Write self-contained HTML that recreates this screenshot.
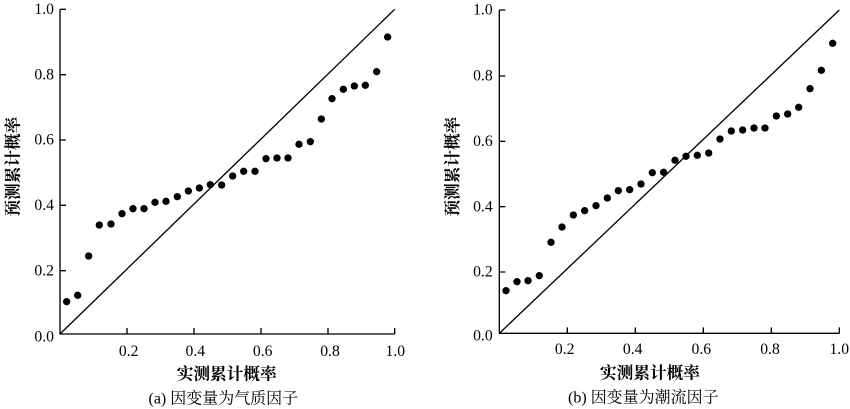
<!DOCTYPE html>
<html><head><meta charset="utf-8"><style>body{margin:0;background:#fff}svg{display:block}</style></head><body>
<svg width="850" height="409" viewBox="0 0 850 409" xmlns="http://www.w3.org/2000/svg">
<g transform="scale(0.33333)" font-family="Liberation Serif, Noto Serif CJK SC, serif" fill="#000">
<!-- left -->
<g stroke="#000" stroke-width="4" fill="none">
<path d="M180 28 V1002 H1184"/>
<path d="M180 28 h18 M180 224 h18 M180 420 h18 M180 616 h18 M180 812 h18"/>
<path d="M381 1002 v-18 M582 1002 v-18 M783 1002 v-18 M984 1002 v-18 M1184 1002 v-18"/>
<path d="M180 1002 L1184 28" stroke-width="4"/>
</g>
<g font-size="47" text-anchor="end">
<text x="162" y="42">1.0</text><text x="162" y="238">0.8</text><text x="162" y="434">0.6</text><text x="162" y="630">0.4</text><text x="162" y="826">0.2</text><text x="162" y="1024">0.0</text>
</g>
<g font-size="47" text-anchor="middle">
<text x="386" y="1068">0.2</text><text x="586" y="1068">0.4</text><text x="788" y="1068">0.6</text><text x="990" y="1068">0.8</text><text x="1186" y="1068">1.0</text>
</g>
<text x="680" y="1138" font-size="50" font-weight="bold" text-anchor="middle" font-family="Noto Serif CJK SC, serif">实测累计概率</text>
<text x="670" y="1210" font-size="48" text-anchor="middle">(a) 因变量为气质因子</text>
<text transform="translate(56,500) rotate(-90)" font-size="50" font-weight="bold" text-anchor="middle" font-family="Noto Serif CJK SC, serif">预测累计概率</text>
<g>
<circle cx="200" cy="905" r="11"/><circle cx="233" cy="886" r="11"/><circle cx="266" cy="768" r="11"/><circle cx="298" cy="675" r="11"/><circle cx="333" cy="672" r="11"/><circle cx="366" cy="641" r="11"/><circle cx="399" cy="626" r="11"/><circle cx="432" cy="626" r="11"/><circle cx="465" cy="607" r="11"/><circle cx="498" cy="604" r="11"/><circle cx="532" cy="590" r="11"/><circle cx="565" cy="573" r="11"/><circle cx="598" cy="564" r="11"/><circle cx="631" cy="554" r="11"/><circle cx="665" cy="555" r="11"/><circle cx="698" cy="528" r="11"/><circle cx="731" cy="514" r="11"/><circle cx="765" cy="514" r="11"/><circle cx="798" cy="476" r="11"/><circle cx="831" cy="474" r="11"/><circle cx="864" cy="474" r="11"/><circle cx="897" cy="433" r="11"/><circle cx="931" cy="425" r="11"/><circle cx="964" cy="357" r="11"/><circle cx="996" cy="296" r="11"/><circle cx="1030" cy="268" r="11"/><circle cx="1063" cy="258" r="11"/><circle cx="1096" cy="256" r="11"/><circle cx="1130" cy="215" r="11"/><circle cx="1163" cy="111" r="11"/>
</g>
<!-- right -->
<g transform="translate(1290,0)">
<g stroke="#000" stroke-width="4" fill="none">
<path d="M208 30 V1000 H1228"/>
<path d="M208 30 h18 M208 228 h18 M208 424 h18 M208 620 h18 M208 816 h18"/>
<path d="M412 1000 v-18 M616 1000 v-18 M820 1000 v-18 M1024 1000 v-18 M1228 1000 v-18"/>
<path d="M208 1000 L1228 30"/>
</g>
<g font-size="47" text-anchor="end">
<text x="188" y="44">1.0</text><text x="188" y="242">0.8</text><text x="188" y="438">0.6</text><text x="188" y="634">0.4</text><text x="188" y="830">0.2</text><text x="188" y="1022">0.0</text>
</g>
<g font-size="47" text-anchor="middle">
<text x="404" y="1062">0.2</text><text x="608" y="1062">0.4</text><text x="814" y="1062">0.6</text><text x="1020" y="1062">0.8</text><text x="1228" y="1062">1.0</text>
</g>
<text x="660" y="1136" font-size="50" font-weight="bold" text-anchor="middle" font-family="Noto Serif CJK SC, serif">实测累计概率</text>
<text x="640" y="1208" font-size="48" text-anchor="middle">(b) 因变量为潮流因子</text>
<text transform="translate(84,500) rotate(-90)" font-size="50" font-weight="bold" text-anchor="middle" font-family="Noto Serif CJK SC, serif">预测累计概率</text>
<g>
<circle cx="228" cy="872" r="11"/><circle cx="261" cy="845" r="11"/><circle cx="294" cy="842" r="11"/><circle cx="328" cy="827" r="11"/><circle cx="363" cy="727" r="11"/><circle cx="396" cy="681" r="11"/><circle cx="430" cy="645" r="11"/><circle cx="464" cy="632" r="11"/><circle cx="498" cy="617" r="11"/><circle cx="532" cy="594" r="11"/><circle cx="565" cy="572" r="11"/><circle cx="599" cy="569" r="11"/><circle cx="633" cy="552" r="11"/><circle cx="667" cy="518" r="11"/><circle cx="701" cy="517" r="11"/><circle cx="735" cy="481" r="11"/><circle cx="768" cy="469" r="11"/><circle cx="802" cy="466" r="11"/><circle cx="836" cy="459" r="11"/><circle cx="870" cy="417" r="11"/><circle cx="904" cy="393" r="11"/><circle cx="938" cy="390" r="11"/><circle cx="972" cy="384" r="11"/><circle cx="1005" cy="384" r="11"/><circle cx="1039" cy="348" r="11"/><circle cx="1073" cy="342" r="11"/><circle cx="1106" cy="322" r="11"/><circle cx="1140" cy="266" r="11"/><circle cx="1174" cy="211" r="11"/><circle cx="1208" cy="130" r="11"/>
</g>
</g>
</g>
</svg>
</body></html>
